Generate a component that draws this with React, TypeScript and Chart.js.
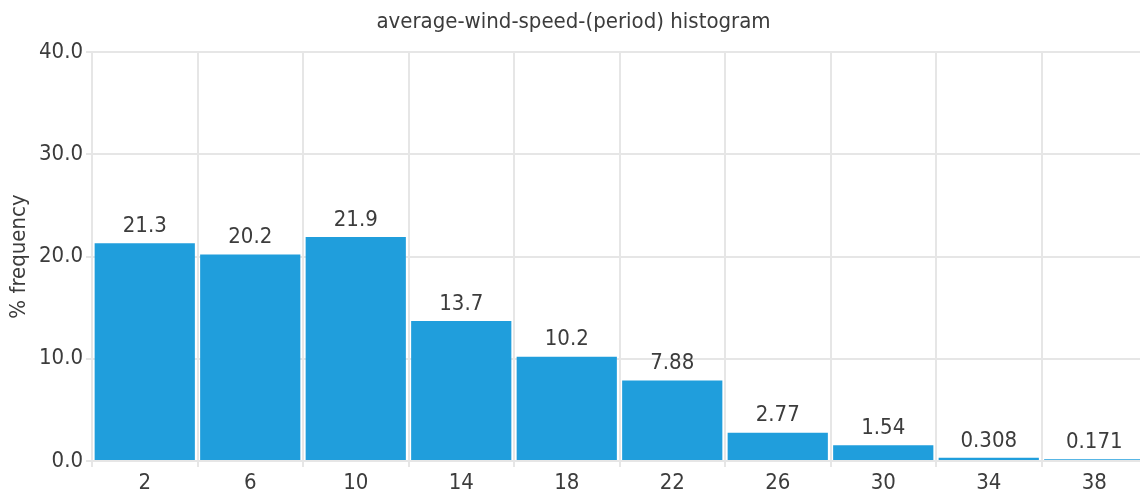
import React, { useEffect, useRef } from "react";
import { Chart, registerables } from "chart.js";

Chart.register(...registerables);

const categories: string[] = ["2", "6", "10", "14", "18", "22", "26", "30", "34", "38"];
const frequencies: number[] = [21.3, 20.2, 21.9, 13.7, 10.2, 7.88, 2.77, 1.54, 0.308, 0.171];
const yTicks: number[] = [0, 10, 20, 30, 40];

const FONT = '"DejaVu Sans Condensed", "DejaVu Sans", sans-serif';
const TEXT = "#3c3c3c";
const GRID = "#e6e6e6";
const BAR = "#209edc";

const labelPlugin = {
  id: "barValueLabels",
  afterDatasetsDraw(chart: any) {
    const ctx = chart.ctx;
    const meta = chart.getDatasetMeta(0);
    ctx.save();
    ctx.font = `22px ${FONT}`;
    ctx.fillStyle = TEXT;
    ctx.textAlign = "center";
    ctx.textBaseline = "bottom";
    meta.data.forEach((bar: any, i: number) => {
      ctx.fillText(String(frequencies[i]), bar.x, bar.y - 6);
    });
    ctx.restore();
  },
};

export default function App() {
  const ref = useRef<HTMLCanvasElement | null>(null);
  useEffect(() => {
    document.body.style.margin = "0";
    document.body.style.overflow = "hidden";
    const chart = new Chart(ref.current!, {
      type: "bar",
      data: {
        labels: categories,
        datasets: [
          {
            data: frequencies,
            backgroundColor: BAR,
            borderWidth: 0,
            categoryPercentage: 1,
            barPercentage: 0.95,
          },
        ],
      },
      options: {
        responsive: false,
        animation: false,
        devicePixelRatio: 1,
        layout: { padding: { left: 0, right: 3, top: 0, bottom: 0 } },
        plugins: {
          legend: { display: false },
          tooltip: { enabled: false },
          title: {
            display: true,
            text: "average-wind-speed-(period) histogram",
            color: TEXT,
            font: { family: FONT, size: 22, weight: "normal" },
            padding: { top: 9, bottom: 16.6 },
          },
        },
        scales: {
          x: {
            offset: true,
            grid: { offset: true, color: GRID, lineWidth: 2, tickLength: 6, drawTicks: true },
            border: { color: GRID, width: 2 },
            ticks: { color: TEXT, font: { family: FONT, size: 22 }, padding: 3 },
            afterFit: (s: any) => {
              s.height = 32;
            },
          },
          y: {
            min: 0,
            max: 40,
            afterBuildTicks: (s: any) => {
              s.ticks = yTicks.map((v) => ({ value: v }));
            },
            grid: { color: GRID, lineWidth: 2, tickLength: 6 },
            border: { color: GRID, width: 2 },
            ticks: {
              color: TEXT,
              font: { family: FONT, size: 22 },
              padding: 3,
              callback: (v: any) => Number(v).toFixed(1),
            },
            title: {
              display: true,
              text: "% frequency",
              color: TEXT,
              font: { family: FONT, size: 22 },
              padding: { top: 6, bottom: 0 },
            },
            afterFit: (s: any) => {
              s.width = 92;
            },
          },
        },
      },
      plugins: [labelPlugin],
    });
    return () => chart.destroy();
  }, []);
  return (
    <div style={{ position: "fixed", left: 0, top: 0, width: 1140, height: 493, overflow: "hidden" }}>
      <canvas ref={ref} width={1150} height={493} style={{ display: "block" }} />
    </div>
  );
}
